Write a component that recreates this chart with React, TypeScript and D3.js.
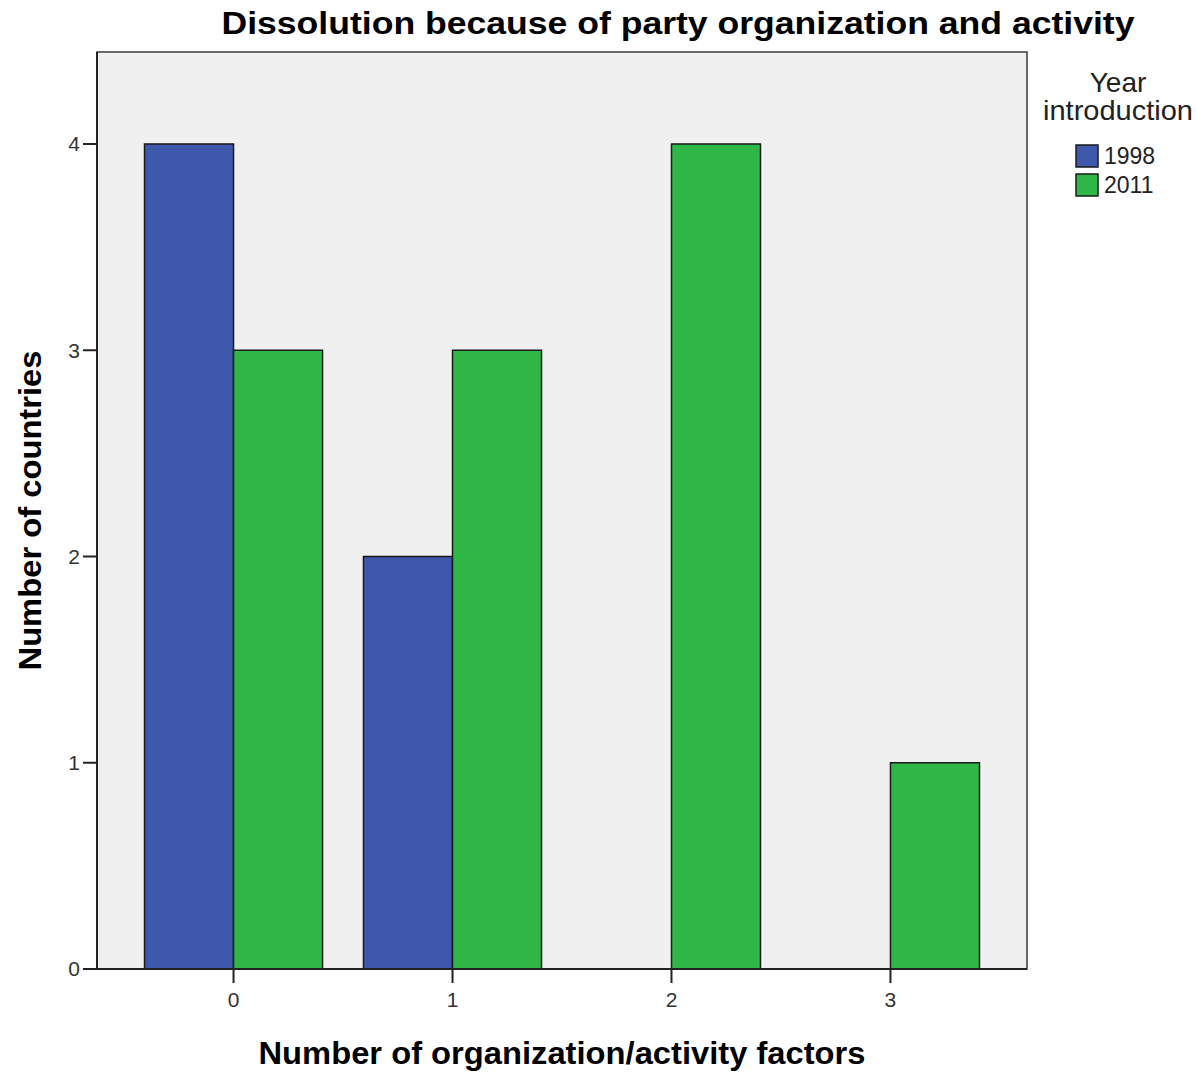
import * as d3 from "d3";

const categories = ["0", "1", "2", "3"];
const years = ["1998", "2011"];
const values1998 = [4, 2, 0, 0];
const values2011 = [3, 3, 4, 1];
const yTicks = [0, 1, 2, 3, 4];

const WIDTH = 1196;
const HEIGHT = 1072;
const PLOT = { left: 97, right: 1027, top: 52, bottom: 969 };
const COLORS = ["#3e58ab", "#2fb848"];
const FONT = "'Liberation Sans', Arial, sans-serif";

export default function App() {
  const series = [values1998, values2011];

  const xScale = d3
    .scaleBand<string>()
    .domain(categories)
    .range([PLOT.left, PLOT.right])
    .paddingInner(0.187)
    .paddingOuter(0.217);

  const subScale = d3
    .scaleBand<string>()
    .domain(years)
    .range([0, xScale.bandwidth()]);

  const yScale = d3
    .scaleLinear()
    .domain([0, 4.446])
    .range([PLOT.bottom, PLOT.top]);

  const color = d3.scaleOrdinal<string>().domain(years).range(COLORS);

  return (
    <div style={{ position: "absolute", left: 0, top: 0 }}>
      <svg width={WIDTH} height={HEIGHT} style={{ display: "block", background: "#fff" }}>
        {/* plot background */}
        <rect
          x={PLOT.left}
          y={PLOT.top}
          width={PLOT.right - PLOT.left}
          height={PLOT.bottom - PLOT.top}
          fill="#f0f0f0"
          stroke="#3a3a3a"
          strokeWidth={1.5}
        />

        {/* bars */}
        {years.map((yr, s) => (
          <g key={yr}>
            {categories.map((c, i) => {
              const v = series[s][i];
              if (v <= 0) return null;
              return (
                <rect
                  key={c}
                  x={(xScale(c) ?? 0) + (subScale(yr) ?? 0)}
                  y={yScale(v)}
                  width={subScale.bandwidth()}
                  height={yScale(0) - yScale(v)}
                  fill={color(yr)}
                  stroke="#1a1a1a"
                  strokeWidth={1.5}
                />
              );
            })}
          </g>
        ))}

        {/* axes */}
        <line x1={PLOT.left} x2={PLOT.left} y1={PLOT.top} y2={PLOT.bottom} stroke="#222" strokeWidth={2} />
        <line x1={PLOT.left} x2={PLOT.right} y1={PLOT.bottom} y2={PLOT.bottom} stroke="#222" strokeWidth={2} />

        {yTicks.map((t) => (
          <g key={t}>
            <line x1={PLOT.left - 14} x2={PLOT.left} y1={yScale(t)} y2={yScale(t)} stroke="#222" strokeWidth={2} />
            <text
              x={PLOT.left - 17}
              y={yScale(t)}
              dy="0.35em"
              textAnchor="end"
              fontFamily={FONT}
              fontSize={21}
              fill="#333"
            >
              {t}
            </text>
          </g>
        ))}

        {categories.map((c) => {
          const cx = (xScale(c) ?? 0) + xScale.bandwidth() / 2;
          return (
            <g key={c}>
              <line x1={cx} x2={cx} y1={PLOT.bottom} y2={PLOT.bottom + 14} stroke="#222" strokeWidth={2} />
              <text
                x={cx}
                y={PLOT.bottom + 31}
                dy="0.35em"
                textAnchor="middle"
                fontFamily={FONT}
                fontSize={21}
                fill="#333"
              >
                {c}
              </text>
            </g>
          );
        })}

        {/* titles */}
        <text
          x={678}
          y={23}
          dy="0.35em"
          textAnchor="middle"
          fontFamily={FONT}
          fontWeight="bold"
          fontSize={31}
          fill="#000"
          textLength={913}
          lengthAdjust="spacingAndGlyphs"
        >
          Dissolution because of party organization and activity
        </text>
        <text
          x={(PLOT.left + PLOT.right) / 2}
          y={1053}
          dy="0.35em"
          textAnchor="middle"
          fontFamily={FONT}
          fontWeight="bold"
          fontSize={31}
          fill="#000"
          textLength={607}
          lengthAdjust="spacingAndGlyphs"
        >
          Number of organization/activity factors
        </text>
        <text
          transform={`translate(30,${(PLOT.top + PLOT.bottom) / 2}) rotate(-90)`}
          dy="0.35em"
          textAnchor="middle"
          fontFamily={FONT}
          fontWeight="bold"
          fontSize={31}
          fill="#000"
          textLength={320}
          lengthAdjust="spacingAndGlyphs"
        >
          Number of countries
        </text>

        {/* legend */}
        <text x={1118} y={82} dy="0.35em" textAnchor="middle" fontFamily={FONT} fontSize={28} fill="#222">
          Year
        </text>
        <text
          x={1118}
          y={110}
          dy="0.35em"
          textAnchor="middle"
          fontFamily={FONT}
          fontSize={28}
          fill="#222"
          textLength={150}
          lengthAdjust="spacingAndGlyphs"
        >
          introduction
        </text>
        {years.map((yr, i) => (
          <g key={yr} transform={`translate(1076,${145 + i * 29})`}>
            <rect width={22} height={22} fill={color(yr)} stroke="#1a1a1a" strokeWidth={1.5} />
            <text x={28} y={11} dy="0.35em" fontFamily={FONT} fontSize={23} fill="#222">
              {yr}
            </text>
          </g>
        ))}
      </svg>
    </div>
  );
}
